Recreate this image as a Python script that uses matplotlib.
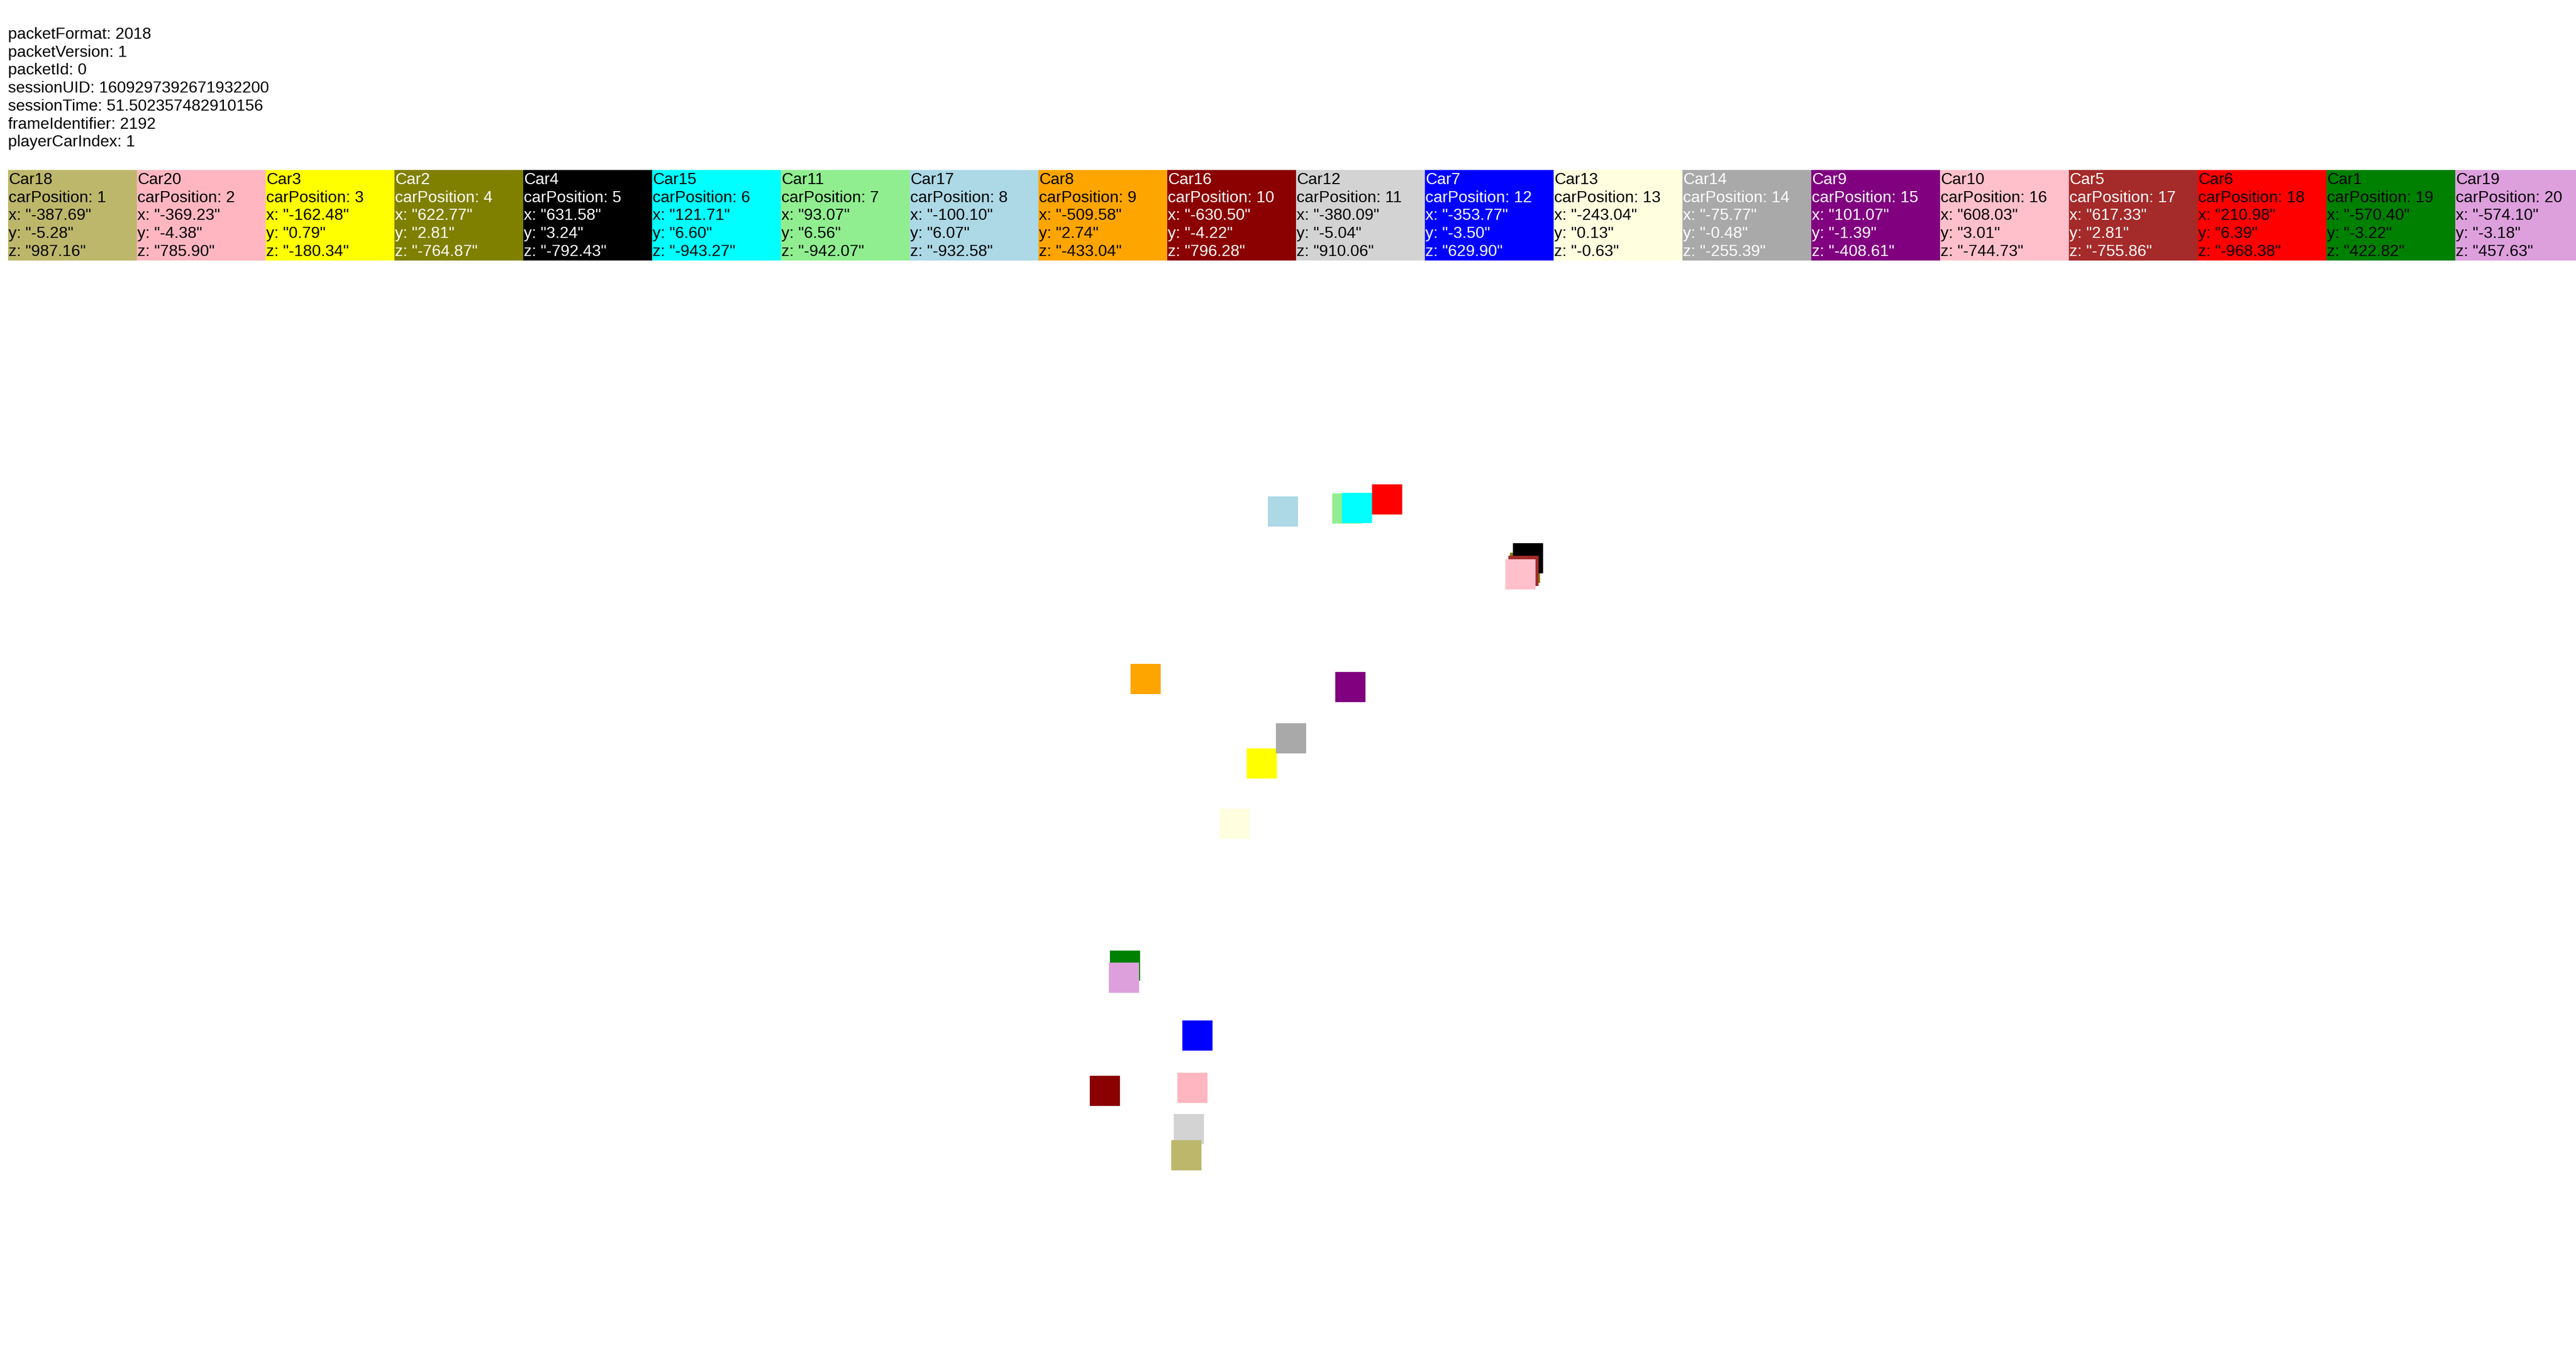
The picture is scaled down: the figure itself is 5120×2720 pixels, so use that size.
import matplotlib
matplotlib.use("Agg")
import matplotlib.pyplot as plt
from matplotlib.patches import Rectangle

plt.rcParams["font.family"] = ["Liberation Sans", "DejaVu Sans"]

# packet header
HEADER_KEYS = ["packetFormat", "packetVersion", "packetId", "sessionUID",
               "sessionTime", "frameIdentifier", "playerCarIndex"]
HEADER_VALUES = ["2018", "1", "0", "1609297392671932200",
                 "51.502357482910156", "2192", "1"]

# cars in race order (carPosition 1..20)
CAR_NAMES = ["Car18", "Car20", "Car3", "Car2", "Car4", "Car15", "Car11", "Car17",
             "Car8", "Car16", "Car12", "Car7", "Car13", "Car14", "Car9", "Car10",
             "Car5", "Car6", "Car1", "Car19"]
CAR_POSITIONS = list(range(1, 21))
POS_X = [-387.69, -369.23, -162.48, 622.77, 631.58, 121.71, 93.07, -100.10,
         -509.58, -630.50, -380.09, -353.77, -243.04, -75.77, 101.07, 608.03,
         617.33, 210.98, -570.40, -574.10]
POS_Y = [-5.28, -4.38, 0.79, 2.81, 3.24, 6.60, 6.56, 6.07, 2.74, -4.22,
         -5.04, -3.50, 0.13, -0.48, -1.39, 3.01, 2.81, 6.39, -3.22, -3.18]
POS_Z = [987.16, 785.90, -180.34, -764.87, -792.43, -943.27, -942.07, -932.58,
         -433.04, 796.28, 910.06, 629.90, -0.63, -255.39, -408.61, -744.73,
         -755.86, -968.38, 422.82, 457.63]
CAR_COLORS = ["darkkhaki", "lightpink", "yellow", "olive", "black", "cyan",
              "lightgreen", "lightblue", "orange", "darkred", "lightgray", "blue",
              "lightyellow", "darkgray", "purple", "pink", "brown", "red",
              "green", "plum"]
WHITE_TEXT = {"olive", "black", "darkred", "blue", "darkgray", "purple", "brown"}

W, H = 5120, 2720
FS = 23.04          # 32 px at dpi 100
LINE = 35.7
SQ = 90             # square side in world units

fig = plt.figure(figsize=(W / 100, H / 100), dpi=100)
fig.patch.set_facecolor("white")

# track map: world x to the right, world z downwards, 2/3 px per unit
track = fig.add_axes([0, 0, 1, 1])
cx, cz = 2616.3, 1638.6
track.set_xlim(-cx * 1.5, (W - cx) * 1.5)
track.set_ylim((H - cz) * 1.5, -cz * 1.5)
track.axis("off")

order = sorted(range(len(CAR_NAMES)), key=lambda i: int(CAR_NAMES[i][3:]))
for i in order:
    track.add_patch(Rectangle((POS_X[i] - SQ / 2, POS_Z[i] - SQ / 2), SQ, SQ,
                              facecolor=CAR_COLORS[i], edgecolor="none"))

# overlay in page pixels for the text panel
page = fig.add_axes([0, 0, 1, 1])
page.set_xlim(0, W)
page.set_ylim(H, 0)
page.axis("off")
page.patch.set_alpha(0)

for k, (key, val) in enumerate(zip(HEADER_KEYS, HEADER_VALUES)):
    page.text(16, 77 + k * LINE, f"{key}: {val}", fontsize=FS,
              va="baseline", ha="left", color="black")

card_w, card_top, card_h = 256, 338, 180
for i, name in enumerate(CAR_NAMES):
    left = 16 + i * card_w
    col = CAR_COLORS[i]
    page.add_patch(Rectangle((left, card_top), card_w, card_h,
                             facecolor=col, edgecolor="none"))
    tc = "white" if col in WHITE_TEXT else "black"
    lines = [name, f"carPosition: {CAR_POSITIONS[i]}",
             f'x: "{POS_X[i]:.2f}"', f'y: "{POS_Y[i]:.2f}"', f'z: "{POS_Z[i]:.2f}"']
    for j, s in enumerate(lines):
        page.text(left + 1, 366 + j * LINE, s, fontsize=FS, va="baseline",
                  ha="left", color=tc, clip_on=True)

fig.savefig("out.png", dpi=100)
plt.close(fig)
